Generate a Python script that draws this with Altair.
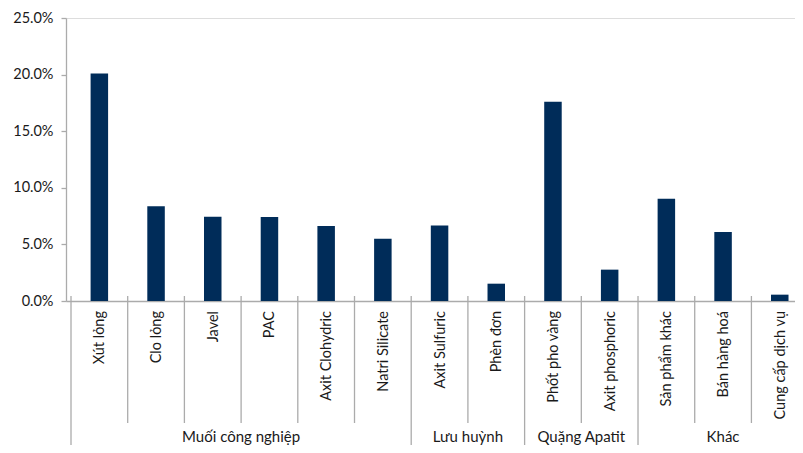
import altair as alt
import pandas as pd

categories = ["Xút lỏng", "Clo lỏng", "Javel", "PAC", "Axit Clohydric", "Natri Silicate",
              "Axit Sulfuric", "Phèn đơn", "Phốt pho vàng", "Axit phosphoric",
              "Sản phẩm khác", "Bán hàng hoá", "Cung cấp dịch vụ"]
groups = ["Muối công nghiệp"] * 6 + ["Lưu huỳnh"] * 2 + ["Quặng Apatit"] * 2 + ["Khác"] * 3
values = [0.201, 0.0836, 0.0745, 0.0742, 0.0662, 0.0551,
          0.0668, 0.0153, 0.176, 0.0277, 0.0904, 0.0609, 0.0056]
y_ticks = [0.0, 0.05, 0.10, 0.15, 0.20, 0.25]

FONT = "Lato"
TXT = "#1a1a1a"
GRAY = "#ababab"
BAR = "#002C59"

W, H = 729, 283
PAD_L, PAD_T, PAD_B = 58, 10, 144
CAT_PX = 57.49
XMAX = W / CAT_PX

bars = pd.DataFrame({"cat": categories, "grp": groups, "value": values,
                     "center": [i + 0.5 for i in range(len(categories))]})

# group spans
g_names, g_start, g_end = [], [], []
for i, g in enumerate(groups):
    if not g_names or g_names[-1] != g:
        g_names.append(g)
        g_start.append(i)
        g_end.append(i + 1)
    else:
        g_end[-1] = i + 1
gdf = pd.DataFrame({"grp": g_names, "start": g_start, "end": g_end})
gdf["center"] = (gdf["start"] + gdf["end"]) / 2

outer = sorted(set(g_start) | set(g_end))
inner = [i for i in range(1, len(categories)) if i not in outer]
outer_df = pd.DataFrame({"b": outer})
inner_df = pd.DataFrame({"b": inner})

xscale = alt.Scale(domain=[0, XMAX], nice=False, zero=False)
yscale = alt.Scale(domain=[0, 0.25], nice=False)

bar_layer = alt.Chart(bars).mark_bar(size=17.5, color=BAR).encode(
    x=alt.X("center:Q", scale=xscale,
            axis=alt.Axis(labels=False, ticks=False, title=None, grid=False,
                          domainColor=GRAY, domainWidth=1.3)),
    y=alt.Y("value:Q", scale=yscale,
            axis=alt.Axis(values=y_ticks, format=".1%", title=None, grid=False,
                          domainColor=GRAY, domainWidth=1.3, tickColor=GRAY,
                          tickSize=5, tickWidth=1.3, labelPadding=8,
                          labelFont=FONT, labelFontSize=14.5, labelColor=TXT)),
)

inner_rules = alt.Chart(inner_df).mark_rule(color=GRAY, strokeWidth=1.3).encode(
    x=alt.X("b:Q", scale=xscale), y=alt.value(H - 5), y2=alt.value(405)
)
outer_rules = alt.Chart(outer_df).mark_rule(color=GRAY, strokeWidth=1.3).encode(
    x=alt.X("b:Q", scale=xscale), y=alt.value(H - 5), y2=alt.value(H + PAD_B)
)

cat_labels = alt.Chart(bars).mark_text(
    angle=270, align="right", baseline="middle", font=FONT, fontSize=14.5, color=TXT, dy=1
).encode(x=alt.X("center:Q", scale=xscale), y=alt.value(H + 10), text="cat:N")

grp_labels = alt.Chart(gdf).mark_text(
    align="center", baseline="middle", font=FONT, fontSize=15, color=TXT
).encode(x=alt.X("center:Q", scale=xscale), y=alt.value(H + 136), text="grp:N")

chart = alt.layer(inner_rules, outer_rules, bar_layer, cat_labels, grp_labels).properties(
    width=W, height=H,
    autosize=alt.AutoSizeParams(type="none"),
    padding={"left": PAD_L, "top": PAD_T, "right": 0, "bottom": PAD_B},
).configure_view(stroke=None).configure(background="white")

chart.save("out.html", embed_options={"renderer": "svg", "actions": False})
